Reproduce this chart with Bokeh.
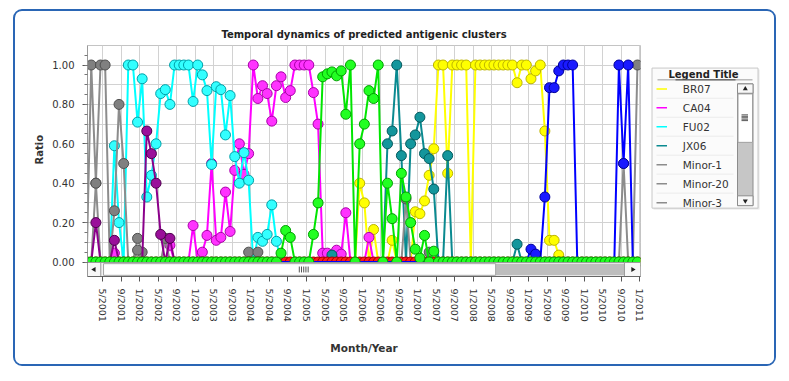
import math
from bokeh.plotting import figure
from bokeh.models import Range1d, FixedTicker, NumeralTickFormatter, Title
from bokeh.layouts import row
from bokeh.embed import file_html
from bokeh.resources import INLINE
from bokeh.core.properties import value

FONT = "DejaVu Sans"

# ---------------- data ----------------
TITLE = "Temporal dynamics of predicted antigenic clusters"
X_LABEL = "Month/Year"
Y_LABEL = "Ratio"
LEGEND_TITLE = "Legend Title"

MONTHS = [f"{y}-{m:02d}" for y in range(2001, 2011) for m in range(1, 13)]

X_TICK_LABELS = ["1/2001", "5/2001", "9/2001", "1/2002", "5/2002", "9/2002",
                 "1/2003", "5/2003", "9/2003", "1/2004", "5/2004", "9/2004",
                 "1/2005", "5/2005", "9/2005", "1/2006", "5/2006", "9/2006",
                 "1/2007", "5/2007", "9/2007", "1/2008", "5/2008", "9/2008",
                 "1/2009", "5/2009", "9/2009", "1/2010", "5/2010", "9/2010",
                 "1/2011"]
Y_TICKS = [0.0, 0.2, 0.4, 0.6, 0.8, 1.0]

BR07_MONTHS = ["2005-12", "2006-01", "2006-03", "2006-07", "2006-12", "2007-01", "2007-02",
               "2007-03", "2007-04", "2007-05", "2007-06", "2007-07", "2007-08", "2007-09",
               "2007-10", "2007-11", "2008-01", "2008-02", "2008-03", "2008-04", "2008-05",
               "2008-06", "2008-07", "2008-08", "2008-09", "2008-10", "2008-11", "2008-12",
               "2009-01", "2009-02", "2009-03", "2009-04", "2009-05", "2009-06", "2009-07"]
BR07_RATIO = [0.40, 0.30, 0.165, 0.11, 0.255, 0.245, 0.31,
              0.44, 0.575, 1.0, 1.0, 0.45, 1.0, 1.0,
              1.0, 1.0, 1.0, 1.0, 1.0, 1.0, 1.0,
              1.0, 1.0, 1.0, 1.0, 0.91, 1.0, 1.0,
              0.93, 0.97, 1.0, 0.665, 0.11, 0.11, 0.035]

CA04_MONTHS = ["2001-07", "2002-07", "2002-12", "2003-02", "2003-03", "2003-04", "2003-05",
               "2003-06", "2003-07", "2003-08", "2003-09", "2003-10", "2003-11", "2003-12",
               "2004-01", "2004-02", "2004-03", "2004-04", "2004-05", "2004-06", "2004-07",
               "2004-08", "2004-09", "2004-10", "2004-11", "2004-12", "2005-01", "2005-02",
               "2005-03", "2005-04", "2005-05", "2005-07", "2005-08", "2005-09", "2006-02"]
CA04_RATIO = [0.045, 0.085, 0.185, 0.05, 0.135, 0.50, 0.11,
              0.125, 0.355, 0.155, 0.465, 0.60, 0.445, 0.55,
              1.0, 0.83, 0.895, 0.855, 0.715, 0.895, 0.94,
              0.835, 0.87, 1.0, 1.0, 1.0, 1.0, 0.86,
              0.70, 0.045, 0.045, 0.06, 0.04, 0.25, 0.125]

FU02_MONTHS = ["2001-07", "2001-08", "2001-10", "2001-11", "2001-12", "2002-01", "2002-02",
               "2002-03", "2002-04", "2002-05", "2002-06", "2002-07", "2002-08", "2002-09",
               "2002-10", "2002-11", "2002-12", "2003-01", "2003-02", "2003-03", "2003-04",
               "2003-05", "2003-06", "2003-07", "2003-08", "2003-09", "2003-10", "2003-11",
               "2003-12", "2004-02", "2004-03", "2004-04", "2004-05", "2004-06"]
FU02_RATIO = [0.59, 0.20, 1.0, 1.0, 0.71, 0.93, 0.33,
              0.44, 0.60, 0.855, 0.875, 0.80, 1.0, 1.0,
              1.0, 1.0, 0.815, 1.0, 0.95, 0.87, 0.495,
              0.89, 0.875, 0.645, 0.845, 0.535, 0.40, 0.555,
              0.415, 0.125, 0.105, 0.14, 0.29, 0.105]

JX06_MONTHS = ["2005-06", "2006-06", "2006-07", "2006-08", "2006-09", "2006-11", "2006-12",
               "2007-01", "2007-02", "2007-03", "2007-04", "2007-07", "2008-10"]
JX06_RATIO = [0.035, 0.60, 0.665, 1.0, 0.54, 0.60, 0.645,
              0.735, 0.55, 0.525, 0.37, 0.54, 0.09]

MINOR1_MONTHS = ["2001-02", "2001-03", "2001-04", "2001-05", "2001-07", "2001-08", "2001-09",
                 "2001-12", "2002-01", "2002-06", "2003-12", "2004-02"]
MINOR1_RATIO = [1.0, 0.40, 1.0, 1.0, 0.26, 0.80, 0.50,
                0.12, 0.05, 0.12, 0.05, 0.05]

MINOR20_MONTHS = ["2001-12", "2006-10", "2007-03", "2010-09", "2010-12"]
MINOR20_RATIO = [0.06, 0.32, 0.05, 0.50, 1.0]

MINOR3_MONTHS = ["2001-03"]
MINOR3_RATIO = [0.40]

MINOR4_MONTHS = ["2001-03", "2001-07", "2002-02", "2002-03", "2002-04", "2002-05", "2002-07"]
MINOR4_RATIO = [0.20, 0.11, 0.665, 0.55, 0.40, 0.14, 0.12]

MINOR5_MONTHS = MONTHS          # present only at ratio 0 throughout
MINOR5_RATIO = [0.0] * len(MONTHS)

PE09_MONTHS = ["2009-01", "2009-02", "2009-04", "2009-05", "2009-06", "2009-07", "2009-08",
               "2009-09", "2009-10", "2010-08", "2010-09", "2010-10"]
PE09_RATIO = [0.065, 0.04, 0.33, 0.885, 0.885, 0.97, 1.0,
              1.0, 1.0, 1.0, 0.50, 1.0]

WI05_MONTHS = ["2004-07", "2004-08", "2004-09", "2005-02", "2005-03", "2005-04", "2005-05",
               "2005-06", "2005-07", "2005-08", "2005-09", "2005-10", "2005-12", "2006-01",
               "2006-02", "2006-03", "2006-04", "2006-06", "2006-07", "2006-09", "2006-10",
               "2006-11", "2006-12", "2007-01", "2007-02", "2007-04"]
WI05_RATIO = [0.045, 0.16, 0.125, 0.14, 0.30, 0.94, 0.955,
              0.965, 0.945, 0.97, 0.75, 1.0, 0.60, 0.70,
              0.87, 0.83, 1.0, 0.40, 0.22, 0.45, 0.33,
              0.20, 0.065, 0.02, 0.135, 0.055]

# name, months, ratios, line colour, fill colour, outline colour, draw zero markers
SERIES = [
    ("BR07", BR07_MONTHS, BR07_RATIO, "#FFFF00", "#FFFF00", "#BDB500", False),
    ("CA04", CA04_MONTHS, CA04_RATIO, "#FF00FF", "#FF33FF", "#A800A8", False),
    ("FU02", FU02_MONTHS, FU02_RATIO, "#00FFFF", "#33FFFF", "#00A0A8", False),
    ("JX06", JX06_MONTHS, JX06_RATIO, "#0A8A90", "#14969C", "#045A5E", False),
    ("Minor-1", MINOR1_MONTHS, MINOR1_RATIO, "#8C8C8C", "#808080", "#505050", False),
    ("Minor-20", MINOR20_MONTHS, MINOR20_RATIO, "#8C8C8C", "#808080", "#505050", False),
    ("Minor-3", MINOR3_MONTHS, MINOR3_RATIO, "#8C8C8C", "#808080", "#505050", False),
    ("Minor-4", MINOR4_MONTHS, MINOR4_RATIO, "#8B008B", "#9A109A", "#4E004E", False),
    ("Minor-5", MINOR5_MONTHS, MINOR5_RATIO, "#FF0000", "#FF1A1A", "#A00000", True),
    ("PE09", PE09_MONTHS, PE09_RATIO, "#0000FF", "#1A1AFF", "#00009C", False),
    ("WI05", WI05_MONTHS, WI05_RATIO, "#00E600", "#22FF22", "#00A000", True),
]
LEGEND_NAMES = ["BR07", "CA04", "FU02", "JX06", "Minor-1", "Minor-20", "Minor-3"]

# ---------------- main chart ----------------
X_START, X_END = 0.69, 120.16
Y_START, Y_END = -0.0736, 1.099
SCROLL_TOP = -0.0025


def month_pos(s):
    y, m = s.split("-")
    return (int(y) - 2001) * 12 + int(m) - 1 + 0.5


p = figure(width=630, height=353, x_range=Range1d(X_START, X_END),
           y_range=Range1d(Y_START, Y_END), toolbar_location=None,
           output_backend="svg", min_border_left=72, min_border_right=5,
           min_border_top=34, min_border_bottom=88)
p.background_fill_color = "white"
p.border_fill_color = "white"
p.outline_line_color = "#c4c4c4"

p.title.text = TITLE
p.title.align = "center"
p.title.text_font = FONT
p.title.text_font_size = "10px"
p.title.text_font_style = "bold"
p.title.text_color = "#222222"
p.title.standoff = 11

# x axis
xticks = [4 * k for k in range(len(X_TICK_LABELS))]
p.xaxis.ticker = FixedTicker(ticks=xticks, minor_ticks=[])
p.xaxis.major_label_overrides = {t: lab for t, lab in zip(xticks, X_TICK_LABELS)}
p.xaxis.major_label_orientation = -math.pi / 2
p.xaxis.major_label_text_font = FONT
p.xaxis.major_label_text_font_size = "9.5px"
p.xaxis.major_label_text_color = "#333333"
p.xaxis.major_label_standoff = 7
p.xaxis.major_tick_out = 5
p.xaxis.major_tick_in = 0
p.xaxis.major_tick_line_color = "#555555"
p.xaxis.axis_line_color = "#666666"
p.xaxis.axis_label = X_LABEL
p.xaxis.axis_label_text_font = FONT
p.xaxis.axis_label_text_font_size = "10.5px"
p.xaxis.axis_label_text_font_style = "bold"
p.xaxis.axis_label_text_color = "#333333"
p.xaxis.axis_label_standoff = 17

# y axis
p.yaxis.ticker = FixedTicker(ticks=Y_TICKS, minor_ticks=[0.05 * k for k in range(23)])
p.yaxis.formatter = NumeralTickFormatter(format="0.00")
p.yaxis.major_label_text_font = FONT
p.yaxis.major_label_text_font_size = "10px"
p.yaxis.major_label_text_color = "#333333"
p.yaxis.major_label_standoff = 8
p.yaxis.major_tick_out = 5
p.yaxis.major_tick_in = 0
p.yaxis.minor_tick_out = 3
p.yaxis.minor_tick_in = 0
p.yaxis.major_tick_line_color = "#555555"
p.yaxis.minor_tick_line_color = "#777777"
p.yaxis.axis_line_color = "#999999"
p.add_layout(Title(text=Y_LABEL, align="left", offset=112, text_font=FONT,
                   text_font_size="10px", text_font_style="bold",
                   text_color="#333333"), "left")

# grids
p.xgrid.ticker = FixedTicker(ticks=xticks, minor_ticks=[])
p.ygrid.ticker = FixedTicker(ticks=[0.1 * k for k in range(11)], minor_ticks=[])
p.grid.grid_line_color = "#d2d2d2"
p.grid.grid_line_width = 1

n = len(MONTHS)
xs = [month_pos(m) for m in MONTHS]
for name, months, ratios, lc, fc, oc, zeros in SERIES:
    full = [0.0] * n
    for m, r in zip(months, ratios):
        full[MONTHS.index(m)] = r
    p.line(xs, full, line_color=lc, line_width=2)
    if zeros:
        zx = [x for x, v in zip(xs, full) if v == 0]
        p.scatter(zx, [0.0] * len(zx), size=10, fill_color=fc, line_color=oc,
                  line_width=1)
    nx = [x for x, v in zip(xs, full) if v > 0]
    ny = [v for v in full if v > 0]
    p.scatter(nx, ny, size=10, fill_color=fc, line_color=oc, line_width=1)

# scrollbar strip under the frame (decoration)
def fx(f):
    return X_START + f * (X_END - X_START)

p.quad(left=[fx(0)], right=[fx(1)], bottom=[Y_START], top=[SCROLL_TOP],
       fill_color="#f2f2f2", line_color="#9a9a9a", line_width=1)
p.quad(left=[fx(0.738)], right=[fx(0.971)], bottom=[Y_START + 0.006], top=[SCROLL_TOP - 0.006],
       fill_color="#bdbdbd", line_color=None)
p.quad(left=[fx(0.029)], right=[fx(0.738)], bottom=[Y_START + 0.006], top=[SCROLL_TOP - 0.006],
       fill_color="#ffffff", line_color="#a6a6a6", line_width=1)
p.quad(left=[fx(0.0)], right=[fx(0.024)], bottom=[Y_START], top=[SCROLL_TOP],
       fill_color="#f7f7f7", line_color="#9a9a9a")
p.quad(left=[fx(0.971)], right=[fx(1.0)], bottom=[Y_START], top=[SCROLL_TOP],
       fill_color="#f7f7f7", line_color="#9a9a9a")
ymid = (Y_START + SCROLL_TOP) / 2
p.scatter([fx(0.012)], [ymid], marker="triangle", angle=math.pi / 2, size=5,
          fill_color="#222222", line_color=None)
p.scatter([fx(0.986)], [ymid], marker="triangle", angle=-math.pi / 2, size=5,
          fill_color="#222222", line_color=None)
grip = [fx(0.383 + 0.004 * k) for k in range(5)]
p.segment(x0=grip, x1=grip, y0=[ymid - 0.015] * 5, y1=[ymid + 0.015] * 5,
          line_color="#555555", line_width=1)

# ---------------- legend panel ----------------
LW, LH = 129, 353
leg = figure(width=LW, height=LH, x_range=Range1d(0, LW), y_range=Range1d(LH, 0),
             toolbar_location=None, output_backend="svg", min_border=0,
             x_axis_type=None, y_axis_type=None)
leg.outline_line_color = None
leg.background_fill_color = "white"
leg.border_fill_color = "white"

leg.quad(left=[8], right=[114], top=[36.5], bottom=[250.5], fill_color="#e6e6e6",
         line_color=None)
leg.quad(left=[6.5], right=[112.5], top=[34.5], bottom=[248.5], fill_color="#fbfbfb",
         line_color="#c8c8c8", line_width=1)
leg.text(x=[58], y=[44.5], text=[LEGEND_TITLE], text_font=value(FONT),
         text_font_size="10px", text_font_style="bold", text_align="center",
         text_baseline="middle", text_color="#222222")
leg.segment(x0=[12], x1=[107], y0=[52.5], y1=[52.5], line_color="#9a9a9a", line_width=1)
leg.segment(x0=[30], x1=[90], y0=[52.5], y1=[52.5], line_color="#444444", line_width=1)

colors = {s[0]: s[3] for s in SERIES}
item_y = [66.3 + 29.0 * k for k in range(len(LEGEND_NAMES))]
sep_y = [y + 14.3 for y in item_y[:-1]]
leg.segment(x0=[11] * len(sep_y), x1=[88] * len(sep_y), y0=sep_y, y1=sep_y,
            line_color="#ebebeb", line_width=1)
leg.segment(x0=[11] * len(item_y), x1=[21.5] * len(item_y), y0=item_y, y1=item_y,
            line_color=[colors[nm] for nm in LEGEND_NAMES], line_width=1.5)
leg.text(x=[37.3] * len(item_y), y=item_y, text=LEGEND_NAMES, text_font=value(FONT),
         text_font_size="10.5px", text_align="left", text_baseline="middle",
         text_color="#333333")

# legend scrollbar (decoration)
leg.quad(left=[92], right=[107.5], top=[58.7], bottom=[244.7], fill_color="#c6c6c6",
         line_color="#8c8c8c", line_width=1)
leg.quad(left=[92.5], right=[107], top=[74], bottom=[148], fill_color="#ffffff",
         line_color="#a0a0a0", line_width=1)
leg.quad(left=[92], right=[107.5], top=[58.7], bottom=[73], fill_color="#f7f7f7",
         line_color="#8c8c8c", line_width=1)
leg.quad(left=[92], right=[107.5], top=[229.7], bottom=[244.7], fill_color="#f7f7f7",
         line_color="#8c8c8c", line_width=1)
leg.scatter([99.8], [66.2], marker="triangle", size=5, fill_color="#222222", line_color=None)
leg.scatter([99.8], [237.4], marker="inverted_triangle", size=5, fill_color="#222222",
            line_color=None)
gy = [106 + 2.2 * k for k in range(5)]
leg.segment(x0=[96] * 5, x1=[102.5] * 5, y0=gy, y1=gy, line_color="#555555", line_width=1)

layout = row(p, leg, margin=(9, 0, 0, 13),
             styles={"border": "2px solid #2A66B5", "border-radius": "9px",
                     "overflow": "hidden", "background-color": "white"})

open("out.html", "w").write(file_html(layout, INLINE))
